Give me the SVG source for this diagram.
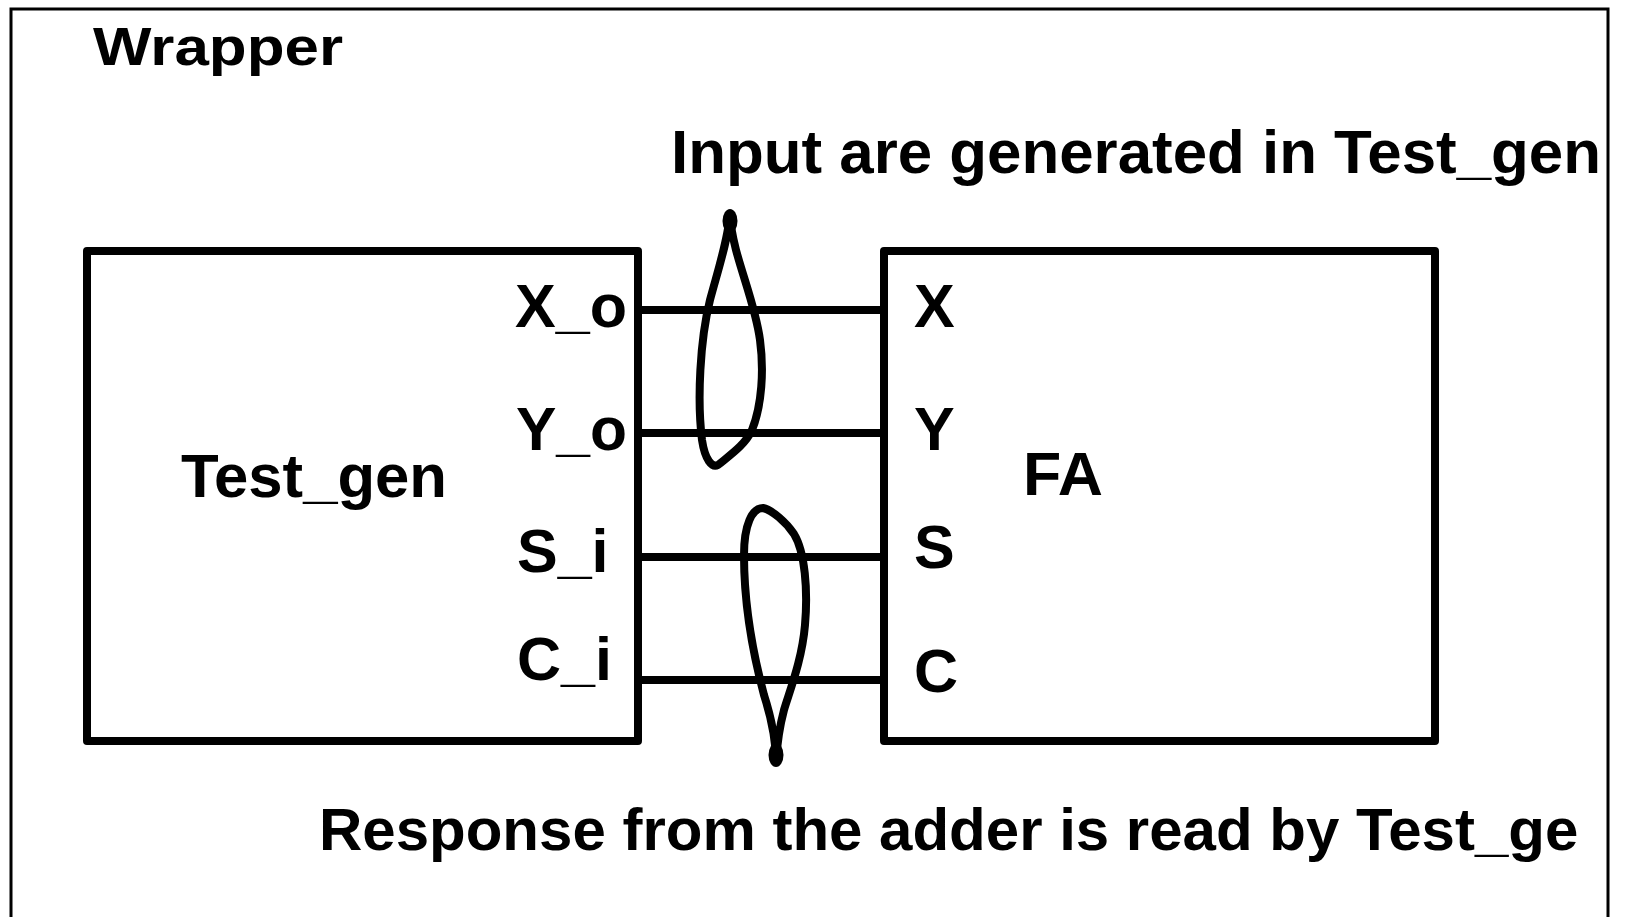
<svg xmlns="http://www.w3.org/2000/svg" width="1625" height="917" viewBox="0 0 1625 917">
<style>
.t{font-family:"Liberation Sans",Arial,sans-serif;font-weight:bold;fill:#000}
.box{fill:none;stroke:#000;stroke-width:8;stroke-linejoin:round}
.wire{stroke:#000;stroke-width:8;fill:none}
.loop{stroke:#000;stroke-width:8;fill:none;stroke-linejoin:round}
</style>
<rect width="1625" height="917" fill="#fff"/>
<g id="wrapper">
<rect x="11" y="9" width="1597" height="1000" fill="none" stroke="#000" stroke-width="3"/>
<text class="t" x="93" y="65" font-size="53" textLength="250" lengthAdjust="spacingAndGlyphs">Wrapper</text>
</g>
<g id="test_gen">
<rect class="box" x="87" y="251" width="551" height="490"/>
<text class="t" x="181" y="497" font-size="61" textLength="266" lengthAdjust="spacingAndGlyphs">Test_gen</text>
<text class="t" x="515" y="327" font-size="61" textLength="112" lengthAdjust="spacingAndGlyphs">X_o</text>
<text class="t" x="516" y="450" font-size="61" textLength="111" lengthAdjust="spacingAndGlyphs">Y_o</text>
<text class="t" x="517" y="572" font-size="61">S_i</text>
<text class="t" x="517" y="680" font-size="61">C_i</text>
</g>
<g id="fa">
<rect class="box" x="884" y="251" width="551" height="490"/>
<text class="t" x="1023" y="495" font-size="61" textLength="80" lengthAdjust="spacingAndGlyphs">FA</text>
<text class="t" x="914" y="327" font-size="61">X</text>
<text class="t" x="914" y="450" font-size="61">Y</text>
<text class="t" x="914" y="568" font-size="61">S</text>
<text class="t" x="914" y="692" font-size="61">C</text>
</g>
<g id="connectors">
<line class="wire" x1="638" y1="310" x2="884" y2="310"/>
<line class="wire" x1="638" y1="433" x2="884" y2="433"/>
<line class="wire" x1="638" y1="557" x2="884" y2="557"/>
<line class="wire" x1="638" y1="680" x2="884" y2="680"/>
</g>
<g id="input-bundle">
<path class="loop" d="M730,214 C728,240 718,270 710,300 C700,340 697,400 702,440 C705,460 712,468 718,465 C730,455 745,445 752,430 C762,405 764,370 760,340 C756,310 744,280 736,250 C733,238 730,225 730,214 Z"/>
<ellipse cx="730" cy="221" rx="7.5" ry="12"/>
<text class="t" x="671" y="173" font-size="61" textLength="930" lengthAdjust="spacingAndGlyphs">Input are generated in Test_gen</text>
</g>
<g id="response-bundle">
<path class="loop" d="M776,762 C776,740 772,720 764,695 C752,650 744,600 744,555 C744,525 752,508 763,508 C772,510 786,522 794,534 C805,552 808,590 805,625 C802,660 790,690 784,710 C780,725 777,745 776,762 Z"/>
<ellipse cx="776" cy="755" rx="7.5" ry="12"/>
<text class="t" x="319" y="850" font-size="60">Response from the adder is read by Test_ge</text>
</g>
</svg>
